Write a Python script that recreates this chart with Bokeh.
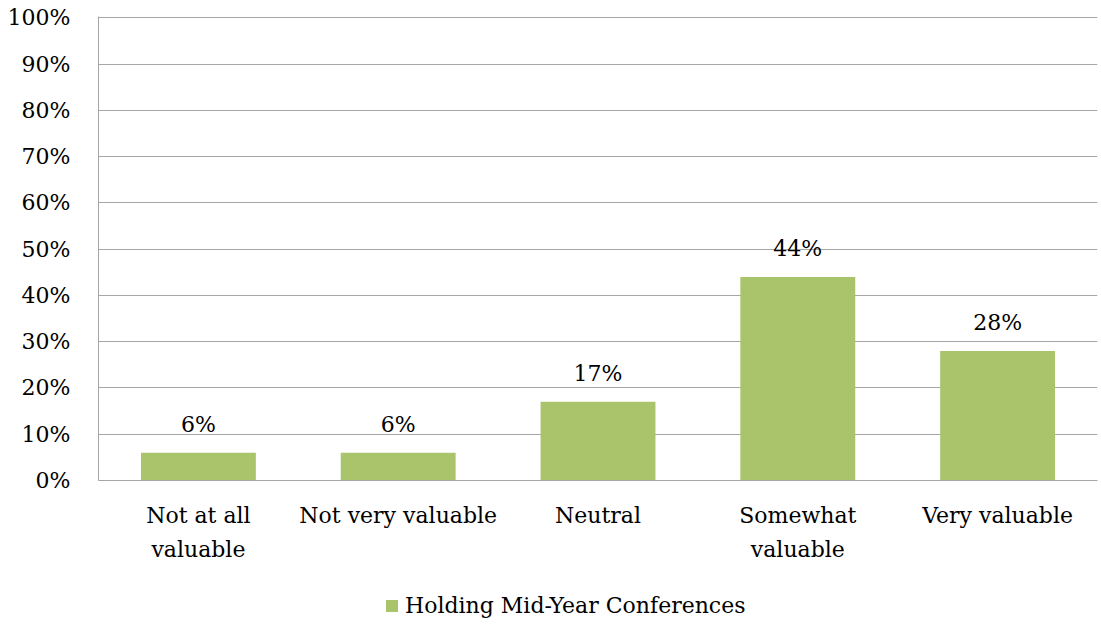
from bokeh.plotting import figure
from bokeh.layouts import column
from bokeh.models import (ColumnDataSource, FixedTicker, Legend, LegendItem, Range1d, FactorRange,
                          CategoricalAxis, CustomJSTickFormatter)
from bokeh.core.properties import value
from bokeh.embed import file_html
from bokeh.resources import INLINE

categories = ["Not at all valuable", "Not very valuable", "Neutral", "Somewhat valuable", "Very valuable"]
tick_line1 = ["Not at all", "Not very valuable", "Neutral", "Somewhat", "Very valuable"]
tick_line2 = ["valuable", "", "", "valuable", ""]
values = [6, 6, 17, 44, 28]
series_name = "Holding Mid-Year Conferences"
y_ticks = [0, 10, 20, 30, 40, 50, 60, 70, 80, 90, 100]

FONT = "DejaVu Serif"
FS = "22px"
BAR = "#AAC46C"
GRID = "#A6A6A6"

src = ColumnDataSource(dict(cat=categories, val=values, lab=[f"{v}%" for v in values]))

p = figure(x_range=FactorRange(*categories), y_range=Range1d(0, 100.3),
           frame_width=999, frame_height=464, output_backend="svg", toolbar_location=None,
           min_border_left=98, min_border_top=16, min_border_right=2, min_border_bottom=0)
p.outline_line_color = None

p.vbar(x="cat", top="val", width=0.575, source=src, fill_color=BAR, line_color=None)
p.text(x="cat", y="val", text="lab", source=src, text_align="center", text_baseline="bottom",
       y_offset=-16, text_font=value(FONT), text_font_size=FS, text_color="#000000")

p.yaxis.ticker = FixedTicker(ticks=y_ticks)
p.yaxis.major_label_overrides = {t: f"{t}%" for t in y_ticks}
p.yaxis.major_tick_line_color = None
p.yaxis.minor_tick_line_color = None
p.yaxis.axis_line_color = GRID
p.yaxis.major_label_standoff = 22
p.yaxis.major_label_text_font = FONT
p.yaxis.major_label_text_font_size = FS
p.yaxis.major_label_text_color = "#000000"

code = "const i = cats.indexOf(tick); return i >= 0 ? labs[i] : tick;"
p.xaxis.formatter = CustomJSTickFormatter(args=dict(cats=categories, labs=tick_line1), code=code)
p.xaxis.major_tick_line_color = None
p.xaxis.axis_line_color = GRID
p.xaxis.major_label_standoff = 16
p.xaxis.major_label_text_font = FONT
p.xaxis.major_label_text_font_size = FS
p.xaxis.major_label_text_color = "#000000"

ax2 = CategoricalAxis(formatter=CustomJSTickFormatter(args=dict(cats=categories, labs=tick_line2), code=code),
                      axis_line_color=None, major_tick_line_color=None, minor_tick_line_color=None,
                      major_label_standoff=0, major_label_text_font=FONT,
                      major_label_text_font_size=FS, major_label_text_color="#000000")
p.add_layout(ax2, "below")

p.xgrid.grid_line_color = None
p.ygrid.grid_line_color = GRID
p.ygrid.ticker = FixedTicker(ticks=y_ticks)

# legend strip below the chart (separate small figure so the legend is not clipped)
lg = figure(x_range=FactorRange(*categories), y_range=Range1d(1000, 1001),
            width=1101, height=54, output_backend="svg", toolbar_location=None,
            x_axis_location=None, y_axis_location=None,
            min_border_left=0, min_border_right=0, min_border_top=0, min_border_bottom=0)
lg.outline_line_color = None
lg.xgrid.grid_line_color = None
lg.ygrid.grid_line_color = None
lr = lg.vbar(x="cat", top="val", width=0.575, source=src, fill_color=BAR, line_color=None)

legend = Legend(items=[LegendItem(label=series_name, renderers=[lr])], orientation="horizontal",
                location=(286, 0), border_line_color=None, background_fill_alpha=0,
                label_text_font=FONT, label_text_font_size=FS, label_text_color="#000000",
                glyph_width=15, glyph_height=15, label_standoff=6, margin=0, padding=0)
lg.add_layout(legend)

layout = column(p, lg, spacing=0)
open("out.html", "w").write(file_html(layout, INLINE))
